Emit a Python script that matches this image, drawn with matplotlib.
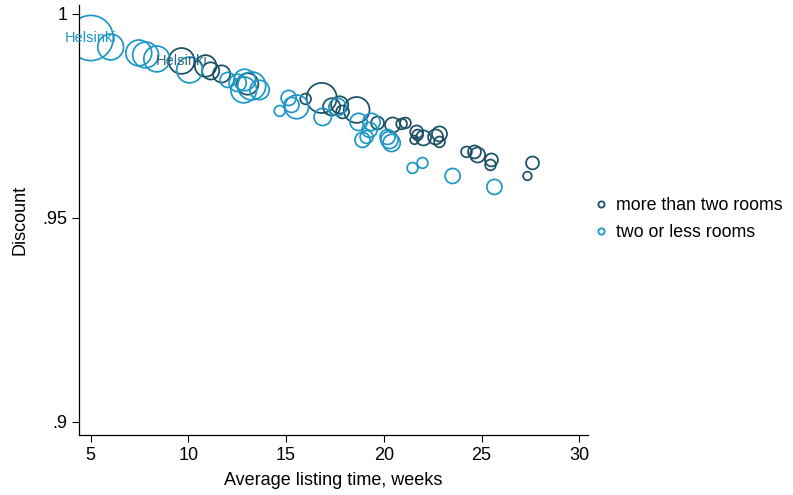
import matplotlib
matplotlib.use("Agg")
import matplotlib.pyplot as plt
from matplotlib.lines import Line2D

plt.rcParams['font.family'] = ['Liberation Sans', 'DejaVu Sans']

# two or less rooms
small_x = [5.0, 6.02, 7.46, 7.81, 8.38, 10.06, 12.01, 12.52, 12.88, 12.83, 13.24, 13.64,
           14.67, 15.13, 15.28, 15.54, 16.87, 17.63, 18.71, 19.37, 19.27, 18.91, 19.12,
           20.19, 20.29, 20.40, 21.47, 21.98, 23.52, 25.66]
small_y = [0.9941, 0.9919, 0.99044, 0.98995, 0.98897, 0.98627, 0.98382, 0.98309, 0.98382,
           0.98137, 0.98235, 0.98137, 0.97623, 0.97941, 0.9777, 0.97721, 0.97475, 0.97721,
           0.97353, 0.97353, 0.97157, 0.96912, 0.96985, 0.96985, 0.96912, 0.96838,
           0.96225, 0.96348, 0.96029, 0.9576]
small_w = [441, 144, 144, 144, 144, 144, 49, 64, 100, 144, 169, 81,
           25, 49, 49, 121, 64, 64, 64, 64, 49, 49, 36,
           49, 64, 64, 25, 25, 49, 49]

# more than two rooms
large_x = [9.65, 10.88, 11.14, 11.70, 13.03, 16.0, 16.82, 17.33, 17.74, 17.89, 18.61,
           19.68, 20.45, 20.91, 21.11, 21.68, 21.73, 21.57, 22.03, 22.65, 22.85, 22.85,
           24.23, 24.64, 24.80, 25.51, 25.46, 27.61, 27.35]
large_y = [0.98848, 0.98725, 0.98603, 0.98529, 0.98284, 0.97917, 0.97941, 0.97721, 0.9777,
           0.97598, 0.97647, 0.97328, 0.97279, 0.97304, 0.97328, 0.97108, 0.97034, 0.96912,
           0.96961, 0.96985, 0.97059, 0.96863, 0.96618, 0.96618, 0.96544, 0.96422,
           0.96299, 0.96348, 0.96029]
large_w = [144, 100, 64, 64, 100, 25, 196, 64, 64, 36, 144,
           36, 49, 25, 25, 36, 25, 16, 49, 49, 49, 25,
           25, 36, 49, 36, 25, 36, 16]

labels = ["more than two rooms", "two or less rooms"]
xticks = [5, 10, 15, 20, 25, 30]
yticks = [0.9, 0.95, 1.0]
yticklabels = [".9", ".95", "1"]

dark = "#1a4f66"
light = "#1d97c6"

fig = plt.figure(figsize=(7.93, 4.95), dpi=100)
ax = fig.add_axes([0.0996, 0.1212, 0.6419, 0.8688])

k = 2.4
ax.scatter(large_x, large_y, s=[w * k for w in large_w], facecolors='none',
           edgecolors=dark, linewidths=1.25)
ax.scatter(small_x, small_y, s=[w * k for w in small_w], facecolors='none',
           edgecolors=light, linewidths=1.25)

ax.text(small_x[0], small_y[0], "Helsinki", color=light, fontsize=10.5,
        ha='center', va='center')
ax.text(large_x[0], large_y[0], "Helsinki", color=dark, fontsize=10.5,
        ha='center', va='center', alpha=0.85)

ax.set_xlim(4.4, 30.45)
ax.set_ylim(0.8968, 1.0022)
ax.set_xticks(xticks)
ax.set_xticklabels([str(t) for t in xticks])
ax.set_yticks(yticks)
ax.set_yticklabels(yticklabels)
ax.tick_params(labelsize=13, length=5, width=0.8, colors='black')
ax.spines['top'].set_visible(False)
ax.spines['right'].set_visible(False)
for sp in ('left', 'bottom'):
    ax.spines[sp].set_linewidth(0.9)

ax.set_xlabel("Average listing time, weeks", fontsize=13, labelpad=6)
ax.set_ylabel("Discount", fontsize=13, labelpad=10)

handles = [Line2D([], [], marker='o', linestyle='none', markerfacecolor='none',
                  markeredgecolor=c, markersize=4.5, markeredgewidth=1.3)
           for c in (dark, light)]
fig.legend(handles, labels, loc='center left', bbox_to_anchor=(0.727, 0.557),
           frameon=False, fontsize=12.8, handletextpad=0.3, labelspacing=0.55,
           handlelength=1.0)

fig.savefig("out.png", dpi=100)
